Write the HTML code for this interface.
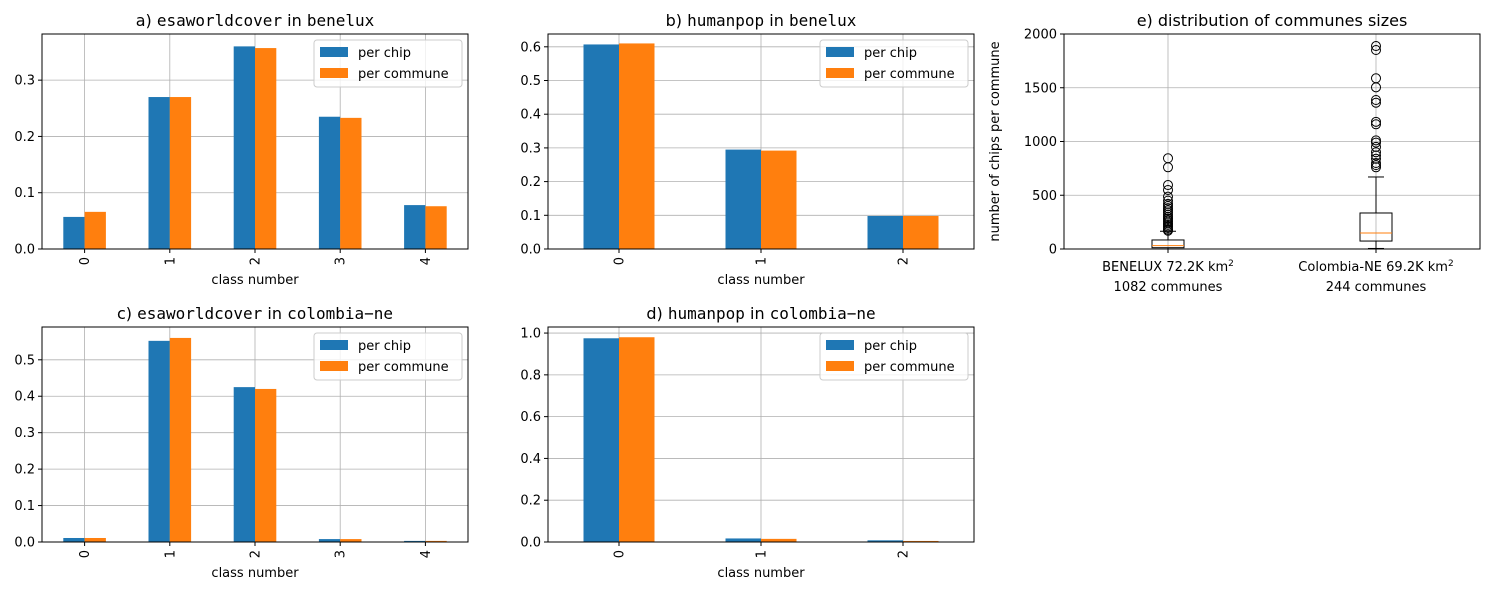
<!DOCTYPE html>
<html><head><meta charset="utf-8"><style>
body{margin:0;background:#fff}
svg{font-family:"DejaVu Sans","Liberation Sans",sans-serif}
.mono{font-family:"DejaVu Sans Mono","Liberation Mono",monospace}
</style></head><body>
<svg id="s" width="1489" height="590" xmlns="http://www.w3.org/2000/svg"></svg>
<script>
const chipA=[0.057,0.270,0.360,0.235,0.078];
const commA=[0.066,0.270,0.357,0.233,0.076];
const chipB=[0.607,0.295,0.098];
const commB=[0.610,0.292,0.098];
const chipC=[0.011,0.552,0.425,0.008,0.003];
const commC=[0.011,0.560,0.420,0.008,0.003];
const chipD=[0.975,0.017,0.008];
const commD=[0.980,0.015,0.005];
const ticksA=[0,0.1,0.2,0.3];
const ticksB=[0,0.1,0.2,0.3,0.4,0.5,0.6];
const ticksC=[0,0.1,0.2,0.3,0.4,0.5];
const ticksD=[0,0.2,0.4,0.6,0.8,1.0];
const boxStats=[{q1:12,med:31,q3:84,lo:0,hi:165},{q1:74,med:149,q3:335,lo:5,hi:670}];
const outBen=[844,760,595,549,487,450,420,400,380,360,340,320,300,285,270,255,240,225,210,195,180,170];
const outCol=[1888,1851,1588,1504,1386,1361,1183,1160,1010,990,950,900,870,840,800,780,760];
const eTicks=[0,500,1000,1500,2000];
const NS="http://www.w3.org/2000/svg";
const S=document.getElementById('s');
function mk(t,a,p){const e=document.createElementNS(NS,t);for(const k in a)e.setAttribute(k,a[k]);(p||S).appendChild(e);return e;}
function txt(x,y,s,a,p){const e=mk('text',Object.assign({x:x,y:y,'font-size':13},a||{}),p);e.textContent=s;return e;}
function titleParts(x,y,parts,name){const t=mk('text',{x:x,y:y,'font-size':16,'text-anchor':'middle'});
 parts.forEach(p=>{const ts=mk('tspan',{},t);if(p[1])ts.setAttribute('class','mono');ts.textContent=p[0];});}
function barPanel(L,T,W,H,ymax,ticks,chip,comm,name){
 const g=mk('g',{});
 const n=chip.length,u=W/n;
 const X=i=>L+(i+0.5)*u, Y=v=>T+H-v/ymax*H;
 ticks.forEach(t=>{const y=Y(t);mk('line',{x1:L,x2:L+W,y1:y,y2:y,stroke:'#b0b0b0','stroke-width':0.8},g);
  mk('line',{x1:L-4,x2:L,y1:y,y2:y,stroke:'#000'},g);
  const tl=txt(L-7,y+4.5,t.toFixed(1),{'text-anchor':'end'},g);});
 for(let i=0;i<n;i++){const x=X(i);mk('line',{x1:x,x2:x,y1:T,y2:T+H,stroke:'#b0b0b0','stroke-width':0.8},g);}
 for(let i=0;i<n;i++){const x=X(i);
  const b1=mk('rect',{x:x-u*0.25,y:Y(chip[i]),width:u*0.25,height:T+H-Y(chip[i]),fill:'#1f77b4'},g);
  
  const b2=mk('rect',{x:x,y:Y(comm[i]),width:u*0.25,height:T+H-Y(comm[i]),fill:'#ff7f0e'},g);
  
  mk('line',{x1:x,x2:x,y1:T+H,y2:T+H+4,stroke:'#000'},g);
  const tl=txt(0,0,String(i),{transform:`translate(${x+4.5},${T+H+8}) rotate(-90)`,'text-anchor':'end'},g);
  }
 mk('rect',{x:L,y:T,width:W,height:H,fill:'none',stroke:'#000','stroke-width':1},g);
 const xl=txt(L+W/2,T+H+35,'class number',{'text-anchor':'middle'},g);
 const lg=mk('g',{},g);
 const lx=L+W-154,ly=T+6;
 mk('rect',{x:lx,y:ly,width:148,height:47,rx:3,fill:'#fff','fill-opacity':0.8,stroke:'#ccc'},lg);
 mk('rect',{x:lx+6,y:ly+7,width:28,height:10,fill:'#1f77b4'},lg);
 mk('rect',{x:lx+6,y:ly+28,width:28,height:10,fill:'#ff7f0e'},lg);
 txt(lx+44,ly+17,'per chip',{},lg);txt(lx+44,ly+38,'per commune',{},lg);
}
barPanel(42,34,426,215,0.382,ticksA,chipA,commA,'panel-a');
barPanel(548,34,426,215,0.638,ticksB,chipB,commB,'panel-b');
barPanel(42,327,426,215,0.59,ticksC,chipC,commC,'panel-c');
barPanel(548,327,426,215,1.029,ticksD,chipD,commD,'panel-d');
titleParts(255,26,[['a) '],['esaworldcover',1],[' in '],['benelux',1]],'title-a');
titleParts(761,26,[['b) '],['humanpop',1],[' in '],['benelux',1]],'title-b');
titleParts(255,319,[['c) '],['esaworldcover',1],[' in '],['colombia\u2212ne',1]],'title-c');
titleParts(761,319,[['d) '],['humanpop',1],[' in '],['colombia\u2212ne',1]],'title-d');
// panel e
(function(){
 const L=1064,T=34,W=416,H=215,ymax=2000;
 const g=mk('g',{});
 const X=p=>L+(p-0.5)/2*W, Y=v=>T+H-v/ymax*H;
 eTicks.forEach(t=>{const y=Y(t);mk('line',{x1:L,x2:L+W,y1:y,y2:y,stroke:'#b0b0b0','stroke-width':0.8},g);
  mk('line',{x1:L-4,x2:L,y1:y,y2:y,stroke:'#000'},g);
  const tl=txt(L-7,y+4.5,String(t),{'text-anchor':'end'},g);});
 [1,2].forEach(p=>{mk('line',{x1:X(p),x2:X(p),y1:T,y2:T+H,stroke:'#b0b0b0','stroke-width':0.8},g);mk('line',{x1:X(p),x2:X(p),y1:T+H,y2:T+H+4,stroke:'#000'},g);});
 const outs=[outBen,outCol];
 boxStats.forEach((b,i)=>{const x=X(i+1),hw=16,cw=8;
  const bg=mk('g',{},g);
  mk('line',{x1:x,x2:x,y1:Y(b.q3),y2:Y(b.hi),stroke:'#000'},bg);
  mk('line',{x1:x,x2:x,y1:Y(b.q1),y2:Y(b.lo),stroke:'#000'},bg);
  mk('line',{x1:x-cw,x2:x+cw,y1:Y(b.hi),y2:Y(b.hi),stroke:'#000'},bg);
  mk('line',{x1:x-cw,x2:x+cw,y1:Y(b.lo),y2:Y(b.lo),stroke:'#000'},bg);
  mk('rect',{x:x-hw,y:Y(b.q3),width:2*hw,height:Y(b.q1)-Y(b.q3),fill:'none',stroke:'#000'},bg);
  mk('line',{x1:x-hw,x2:x+hw,y1:Y(b.med),y2:Y(b.med),stroke:'#ff7f0e'},bg);
  outs[i].forEach(v=>{const c=mk('circle',{cx:x,cy:Y(v),r:4.5,fill:'none',stroke:'#000'},bg);});
 });
 mk('rect',{x:L,y:T,width:W,height:H,fill:'none',stroke:'#000'},g);
 const l1=txt(X(1),271,'BENELUX 72.2K km',{'text-anchor':'middle'},g);const s1=mk('tspan',{dy:-5,'font-size':9},l1);s1.textContent='2';
 txt(X(1),291,'1082 communes',{'text-anchor':'middle'},g);
 const l2=txt(X(2),271,'Colombia-NE 69.2K km',{'text-anchor':'middle'},g);const s2=mk('tspan',{dy:-5,'font-size':9},l2);s2.textContent='2';
 txt(X(2),291,'244 communes',{'text-anchor':'middle'},g);
 const yl=txt(0,0,'number of chips per commune',{transform:`translate(999,${T+H/2}) rotate(-90)`,'text-anchor':'middle'},g);
 const tt=txt(L+W/2,26,'e) distribution of communes sizes',{'text-anchor':'middle','font-size':16},g);
})();
</script>
</body></html>
